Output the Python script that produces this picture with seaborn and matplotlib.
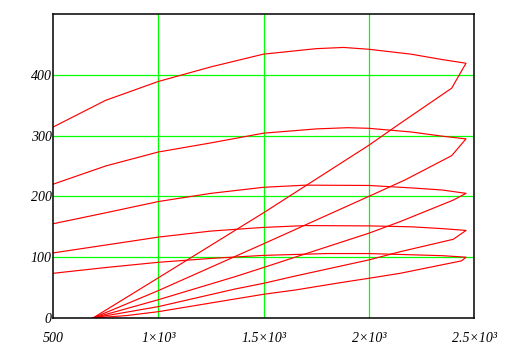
import numpy as np
import pandas as pd
import seaborn as sns
import matplotlib
matplotlib.use("Agg")
import matplotlib.pyplot as plt

# Each curve: upper arch (left -> right), hook at right end, lower branch back to the start
s1_x = [500, 750, 1000, 1250, 1500, 1750, 1880, 2000, 2200, 2350, 2462, 2394, 2149, 2000, 1500, 1000, 690]
s1_y = [314, 358, 389, 413, 434, 443, 445, 442, 434, 425, 419, 378, 320, 284, 173, 66, 0]

s2_x = [500, 750, 1000, 1250, 1500, 1750, 1900, 2000, 2200, 2351, 2462, 2394, 2172, 2000, 1500, 1000, 690]
s2_y = [220, 250, 273, 288, 304, 311, 313, 312, 306, 299, 294.6, 267, 227, 200, 122, 45, 0]

s3_x = [500, 750, 1000, 1250, 1500, 1700, 2000, 2200, 2350, 2462, 2402, 2149, 2000, 1650, 1500, 1365, 1000, 690]
s3_y = [155, 173, 191.5, 205, 215, 218.5, 218, 214, 210.5, 205, 194, 158.5, 139.4, 100, 83, 68, 30, 0]

s4_x = [500, 750, 1000, 1250, 1500, 1700, 2000, 2200, 2350, 2462, 2402, 2149, 2000, 1650, 1500, 1365, 1000, 690]
s4_y = [107, 120, 133, 143, 149, 152, 151.5, 150, 147, 144, 129.5, 109, 95.5, 69, 57, 47.7, 18.7, 0]

s5_x = [500, 750, 1000, 1250, 1500, 1800, 2000, 2200, 2350, 2462, 2441, 2149, 2000, 1863, 1650, 1500, 1365, 1000, 850, 690]
s5_y = [73.5, 83, 91.6, 98, 103, 106, 106, 104, 102.5, 100, 94, 73.5, 65.3, 58, 46, 39, 31.3, 10.4, 4, 0]

x_ticks = [500, 1000, 1500, 2000, 2500]
x_tick_labels = ["500", "1×10³", "1.5×10³", "2×10³", "2.5×10³"]
y_ticks = [0, 100, 200, 300, 400]
y_tick_labels = ["0", "100", "200", "300", "400"]

frames = []
for name, xs, ys in [("s1", s1_x, s1_y), ("s2", s2_x, s2_y), ("s3", s3_x, s3_y),
                     ("s4", s4_x, s4_y), ("s5", s5_x, s5_y)]:
    frames.append(pd.DataFrame({"x": xs, "y": ys, "series": name, "order": range(len(xs))}))
df = pd.concat(frames, ignore_index=True)

sns.set_style("white")
fig = plt.figure(figsize=(5.09, 3.57), dpi=100)
ax = fig.add_axes([53 / 509, 39 / 357, 421 / 509, 304 / 357])

# green grid
for xv in [1000, 1500, 2000]:
    ax.axvline(xv, color="#00ff00", lw=0.9, zorder=1)
for yv in [100, 200, 300, 400]:
    ax.axhline(yv, color="#00ff00", lw=0.9, zorder=1)

sns.lineplot(data=df, x="x", y="y", units="series", estimator=None, sort=False,
             color="#ff0000", linewidth=0.85, ax=ax, legend=False, zorder=3)

ax.set_xlim(500, 2500)
ax.set_ylim(0, 500)
ax.set_xticks(x_ticks)
ax.set_xticklabels(x_tick_labels)
ax.set_yticks(y_ticks)
ax.set_yticklabels(y_tick_labels)
ax.set_xlabel("")
ax.set_ylabel("")
ax.grid(False)
ax.tick_params(axis="both", length=0, labelsize=10, colors="black")
ax.tick_params(axis="x", pad=10)
ax.tick_params(axis="y", pad=1)
for lab in ax.get_xticklabels() + ax.get_yticklabels():
    lab.set_fontfamily("Liberation Serif")
    lab.set_fontstyle("italic")
for sp in ax.spines.values():
    sp.set_visible(True)
    sp.set_color("black")
    sp.set_linewidth(1.1)
    sp.set_zorder(5)

fig.savefig("out.png", dpi=100, facecolor="white")
